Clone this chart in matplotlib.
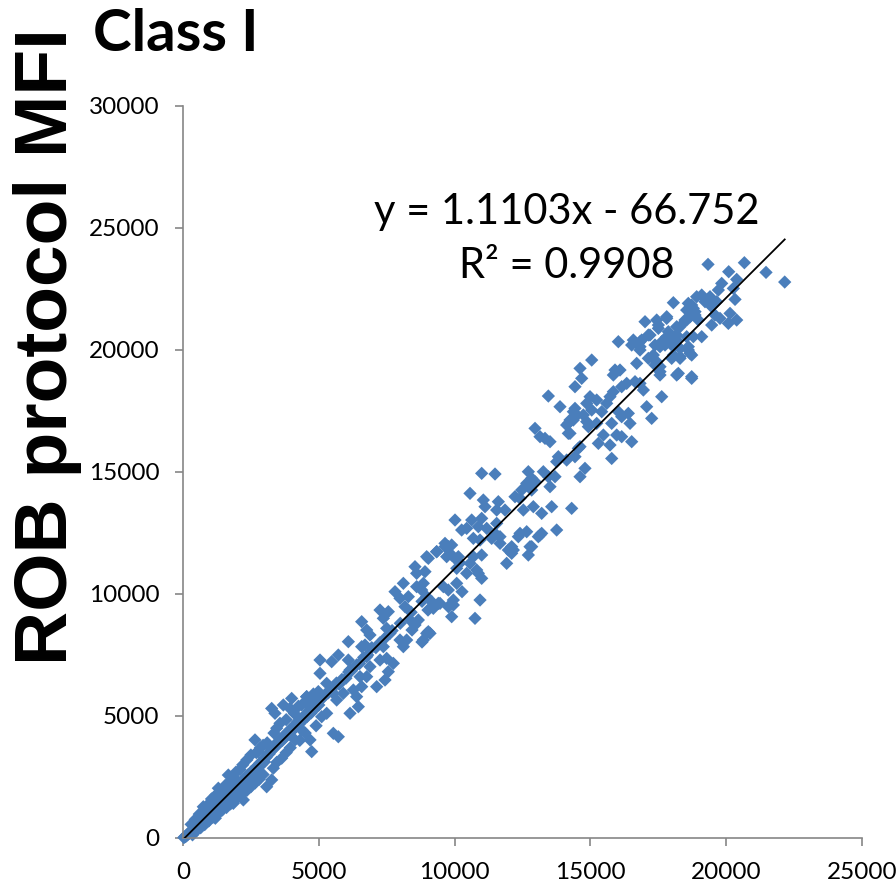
import matplotlib
matplotlib.use("Agg")
import matplotlib.pyplot as plt
import numpy as np

# trendline as printed on the chart
slope = 1.1103
intercept = -66.752
eq_text = "y = 1.1103x - 66.752"
r2_text = "R² = 0.9908"

# points, low range (x < 3000)
x_low = [30, 60, 90, 110, 140, 170, 200, 230, 260, 290, 320, 350, 380, 410, 440, 470, 500, 530, 560, 590,
         620, 650, 680, 710, 740, 770, 800, 830, 860, 890, 920, 950, 980, 1010, 1040, 1070, 1100, 1140, 1180, 1220,
         1260, 1300, 1340, 1380, 1420, 1460, 1500, 1540, 1580, 1620, 1660, 1700, 1740, 1780, 1820, 1860, 1900, 1950, 2000, 2050,
         2100, 2150, 2200, 2250, 2300, 2350, 2400, 2450, 2500, 2550, 2600, 2650, 2700, 2760, 2820, 2880, 2940, 3000,
         300, 450, 600, 748, 900, 1050, 1200, 1301, 1400, 1550, 1669, 1750, 1850, 1950, 2100, 2200, 2350, 2500, 2651, 2700,
         2773, 2850, 2950,
         350, 500, 650, 800, 950, 1100, 1190, 1300, 1450, 1600, 1750, 1853, 1950, 2100, 2222, 2350, 2500, 2650, 2800, 2950]
y_low = [20, 40, 60, 80, 120, 130, 190, 200, 240, 270, 310, 320, 380, 390, 450, 440, 520, 510, 580, 560,
         640, 630, 700, 690, 770, 740, 840, 800, 900, 860, 960, 930, 1040, 990, 1100, 1060, 1160, 1130, 1250, 1210,
         1340, 1300, 1420, 1390, 1510, 1470, 1590, 1560, 1680, 1640, 1760, 1720, 1860, 1810, 1950, 1900, 2040, 2000, 2150, 2120,
         2260, 2220, 2380, 2320, 2480, 2420, 2590, 2520, 2700, 2630, 2800, 2730, 2920, 2870, 3060, 3000, 3190, 3120,
         560, 760, 980, 1280, 1350, 1600, 1750, 2040, 1900, 2150, 2580, 2350, 2500, 2700, 2800, 3000, 3200, 3400, 4020, 3500,
         3540, 3700, 3800,
         130, 300, 420, 550, 700, 850, 810, 1000, 1150, 1250, 1400, 1420, 1600, 1750, 1560, 1950, 2100, 2250, 2400, 2600]

# 3000 - 7000
x_mid1 = [3060, 3120, 3180, 3240, 3300, 3360, 3420, 3480, 3540, 3600, 3660, 3720, 3780, 3840, 3900, 3960, 4020, 4080, 4150, 4220,
          4290, 4360, 4430, 4500, 4570, 4640, 4710, 4780, 4850, 4920, 5000, 5080,
          3100, 3265, 3387, 3350, 3450, 3571, 3694, 3800, 3940, 4001, 4100, 4250, 4370, 4500, 4676, 4800, 4983, 4553, 4676,
          3081, 3265, 3327, 3450, 3633, 3800, 3950, 4124, 4300, 4370, 4500, 4676, 4738, 4900, 5106, 5044,
          5150, 5250, 5350, 5450, 5550, 5650, 5750, 5850, 6000, 6100, 6200, 6300, 6400, 6500, 6650, 6800, 6950,
          5535, 5719, 6149, 5290]
y_mid1 = [3300, 3430, 3450, 3600, 3620, 3780, 3750, 3930, 3890, 4060, 4000, 4190, 4150, 4330, 4270, 4460, 4400, 4600, 4540, 4760,
          4690, 4900, 4830, 5050, 4980, 5200, 5120, 5350, 5280, 5500, 5450, 5700,
          3900, 5310, 5110, 4300, 4500, 4700, 5450, 4850, 5310, 5720, 5100, 5400, 5450, 5550, 5655, 5900, 6000, 5790, 5450,
          2100, 2380, 2860, 3100, 3270, 3500, 3700, 4020, 4000, 4430, 4300, 4020, 3540, 4600, 4970, 5655,
          5750, 5900, 5950, 6050, 6200, 6350, 6300, 6500, 6550, 6800, 6850, 7000, 7100, 7150, 7400, 7500, 7800,
          4290, 4150, 5110, 5110]

# 4500 - 11000
x_mid2 = [5044, 5044, 5474, 5719, 6088, 6579, 6763, 6701, 6885, 6579, 7254, 7376, 7560, 7806, 8113, 7990, 8297, 8174, 8542, 8603,
          8910, 9033, 9340, 9647, 9708, 9892, 10077, 8603, 8788, 8972, 8849, 9156, 9217, 9401, 9586, 9769, 9954, 9892, 10077, 10077,
          7499, 7622, 7990, 8113, 8235, 8358, 8542, 8665, 8972, 8849, 9033, 7376, 7499, 7744, 7560, 7438, 7131, 6763, 6885, 7254,
          6517, 6579, 6394, 6272, 6456, 6149, 6088, 5535, 5658, 5290, 4553, 4676, 5903, 6763,
          7100, 7250, 7400, 7700, 8000, 8400, 8800,
          10936, 10751, 11917, 10874, 10444, 10273, 9954, 9770, 9463, 9021, 9095, 8800, 8432, 10199, 10814, 10997, 10567]
y_mid2 = [7294, 6749, 7226, 7499, 8046, 8865, 8524, 7909, 8319, 7841, 9343, 9002, 9275, 10095, 10437, 9822, 9890, 9480, 11119, 10847,
          10915, 11461, 11734, 11939, 11529, 12007, 11392, 10300, 10163, 9890, 10437, 9685, 9412, 9617, 10300, 10163, 9548, 9070, 10437, 11052,
          8592, 8387, 8114, 7841, 8114, 8934, 8729, 8934, 8387, 8114, 8455, 7841, 7363, 7158, 6816, 6475, 6202, 6612, 7021, 7294,
          6612, 6202, 5792, 6065, 5382, 6885, 7294, 5929, 5655, 6338, 5792, 5450, 5929, 7430,
          7800, 8000, 8150, 8500, 8800, 9250, 9700,
          9753, 9002, 11256, 10847, 10847, 10095, 9753, 9480, 9617, 9343, 8387, 8032, 8524, 11270, 10983, 10642, 11256]

# 9000 - 15000
x_mid3 = [13881, 14433, 14495, 14188, 14372, 12961, 13329, 13513, 14188, 13820, 13758, 14126, 14433, 14556, 14618, 12715, 12838, 13267,
          12654, 12961, 12838, 12470, 12224, 12408, 13452, 13697, 13513, 10997, 11488, 10567, 11058, 11120, 11610, 11549, 11856, 12531,
          12899, 13206, 13574, 14310, 10015, 10629, 10997, 10874, 11181, 11549, 10260, 10444, 11488, 11672, 10690, 10936, 11365, 11672,
          12408, 12654, 12347, 13083, 13206, 13758, 9770, 9647, 9340, 8972, 9892, 10138, 10997, 11979, 12101, 12777, 12715, 12101,
          10690, 12163, 12838, 13145, 14800]
y_mid3 = [17676, 17608, 17335, 16993, 17130, 16788, 16379, 16242, 16583, 15627, 15422, 15490, 15627, 15969, 14807, 15012, 14739, 15012,
          14535, 14603, 14261, 14261, 13987, 13919, 14807, 14807, 14398, 14944, 14917, 14124, 13851, 13578, 13783, 13441, 13441, 13441,
          13578, 13305, 13578, 13510, 13032, 13032, 13100, 12758, 12690, 12895, 12622, 12690, 12485, 12349, 12280, 12212, 12280, 12075,
          12485, 12553, 12349, 12349, 12485, 12622, 11939, 12075, 11734, 11529, 11597, 11529, 11597, 11802, 11939, 11939, 11597, 11667,
          11529, 11802, 11939, 12417, 15150]

# 13000 - 19000
x_high1 = [18054, 18606, 18790, 18852, 18545, 18913, 18177, 17809, 17441, 17502, 17011, 17134, 17870, 17931, 18177, 17747, 17625, 17379,
           16581, 16827, 16520, 16827, 16029, 15048, 14618, 14679, 14433, 15906, 16090, 15845, 16704, 17134, 17318, 17441, 17993, 18300,
           18606, 18729, 18790, 18300, 17563, 17563, 18177, 18729, 16827, 16950, 16643, 16336, 16152, 15845, 15722, 15600, 15232, 14986,
           14864, 15048, 14740, 14372, 14249, 14126, 14433, 14864, 14925, 15232, 15416, 16029, 16152, 16397, 16459, 15784, 15968, 16152,
           15477, 15293, 15722, 16520, 17072, 17256, 17625, 13452, 13145, 14618, 14249, 15784]
y_high1 = [21938, 21911, 21706, 21433, 21228, 22184, 20955, 21364, 21228, 21023, 21159, 20613, 20750, 20545, 20408, 20203, 20340, 20203,
           20408, 20340, 20203, 20135, 20340, 19588, 19247, 18838, 18496, 19179, 19179, 18974, 19452, 19657, 19793, 19520, 19657, 19725,
           19998, 19793, 20545, 20066, 19315, 18974, 18974, 18838, 18632, 18359, 18701, 18632, 18496, 18291, 18086, 17813, 17949, 18086,
           17813, 17539, 17335, 17471, 17130, 16925, 17266, 17062, 16857, 16993, 17471, 17471, 17266, 17403, 16993, 16993, 16515, 16447,
           16515, 16173, 16105, 16242, 17676, 17198, 18086, 18113, 16447, 16037, 16583, 15555]

# 16800 - 22300
x_high2 = [19331, 20669, 21466, 22154, 20092, 20386, 19834, 20263, 19711, 19098, 19404, 19220, 19650, 19466, 18729, 18545, 18852, 18668,
           18484, 18974, 19588, 19772, 20141, 20386, 20079, 20325, 19466, 18300, 17809, 17502, 17195, 17809, 17993, 18177, 18545, 19098,
           17747, 17563, 18054, 18606, 18668, 18300, 18054, 17379, 17563, 18238, 18729, 16888, 16827]
y_high2 = [23509, 23577, 23181, 22785, 23208, 22894, 22730, 22525, 22457, 22252, 22184, 21979, 21979, 21774, 21843, 21637, 21570, 21364,
           21228, 21228, 21433, 21296, 21501, 21228, 21091, 22074, 21023, 20955, 21296, 20886, 20613, 20545, 20408, 20613, 20545, 20545,
           20272, 20135, 20135, 20135, 19862, 19657, 19793, 19384, 19111, 19042, 18906, 20408, 19998]

x_ticks = [0, 5000, 10000, 15000, 20000, 25000]
y_ticks = [0, 5000, 10000, 15000, 20000, 25000, 30000]

x = np.array(x_low + x_mid1 + x_mid2 + x_mid3 + x_high1 + x_high2, dtype=float)
y = np.array(y_low + y_mid1 + y_mid2 + y_mid3 + y_high1 + y_high2, dtype=float)

W, H = 896, 886
fig = plt.figure(figsize=(W / 100, H / 100), dpi=100)
ax = fig.add_axes([183 / W, 48 / H, (862 - 183) / W, (838 - 106) / H])

ax.scatter(x, y, marker="D", s=46, color="#4A7EBB", edgecolors="none", clip_on=False, zorder=2)

xl = np.array([x.min(), x.max()])
ax.plot(xl, slope * xl + intercept, color="black", lw=1.3, zorder=3)

ax.set_xlim(0, 25000)
ax.set_ylim(0, 30000)
ax.set_xticks(x_ticks)
ax.set_yticks(y_ticks)
ax.set_xticklabels([str(t) for t in x_ticks])
ax.set_yticklabels([str(t) for t in y_ticks])

for s in ["top", "right"]:
    ax.spines[s].set_visible(False)
for s in ["left", "bottom"]:
    ax.spines[s].set_color("#868686")
    ax.spines[s].set_linewidth(1.2)
ax.tick_params(axis="both", direction="out", length=6, width=1.2, color="#868686",
               labelsize=17.5, pad=11)
for lab in ax.get_xticklabels() + ax.get_yticklabels():
    lab.set_family(["Lato", "DejaVu Sans"])

fig.text(93 / W, 1 - 8 / H, "Class I", family=["Lato", "DejaVu Sans"], fontweight="bold",
         fontsize=42, ha="left", va="top")
fig.text(48 / W, 1 - 347 / H, "ROB protocol MFI", family=["Liberation Sans", "DejaVu Sans"],
         fontweight="bold", fontsize=54, rotation=90, ha="center", va="center")
fig.text(567 / W, 1 - 212 / H, eq_text, family=["Lato", "DejaVu Sans"], fontsize=30,
         ha="center", va="center")
fig.text(567 / W, 1 - 266 / H, r2_text, family=["Lato", "DejaVu Sans"], fontsize=30,
         ha="center", va="center")

fig.savefig("out.png", dpi=100)
